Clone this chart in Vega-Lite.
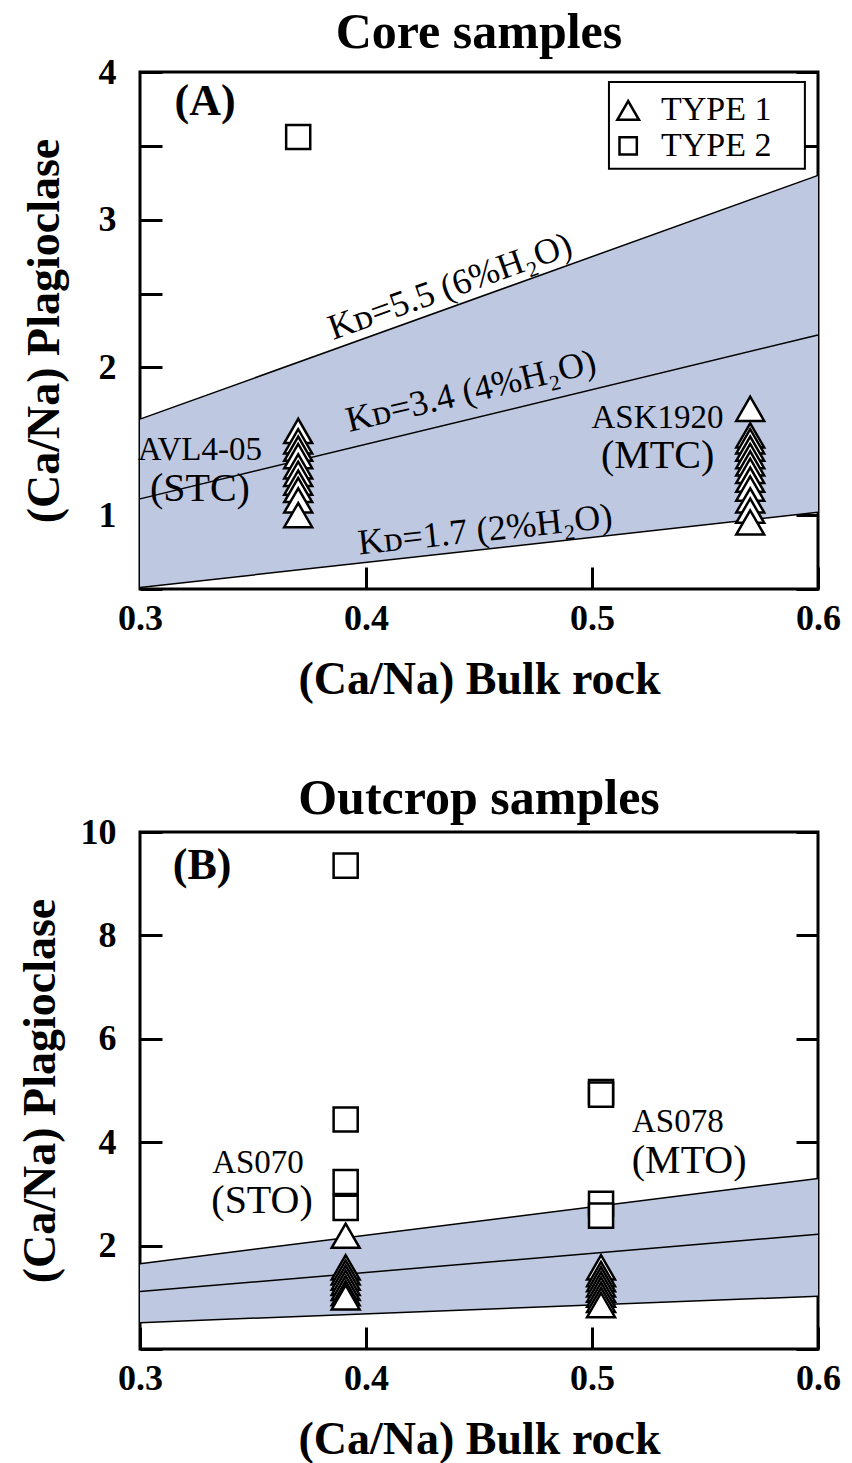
{
  "$schema": "https://vega.github.io/schema/vega-lite/v6.json",
  "padding": {"left": 15, "top": 6, "right": 5, "bottom": 5},
  "background": "white",
  "bounds": "flush",
  "spacing": 243,
  "datasets": {
    "lines": [
      {"x": 0.3, "hi": 1.65, "mid": 1.11, "lo": 0.51},
      {"x": 0.6, "hi": 3.3, "mid": 2.22, "lo": 1.02}
    ],
    "core": [
      {"x": 0.37, "y": 3.56, "type": "TYPE 2"},
      {"x": 0.37, "y": 1.57, "type": "TYPE 1"},
      {"x": 0.37, "y": 1.5, "type": "TYPE 1"},
      {"x": 0.37, "y": 1.45, "type": "TYPE 1"},
      {"x": 0.37, "y": 1.4, "type": "TYPE 1"},
      {"x": 0.37, "y": 1.33, "type": "TYPE 1"},
      {"x": 0.37, "y": 1.28, "type": "TYPE 1"},
      {"x": 0.37, "y": 1.22, "type": "TYPE 1"},
      {"x": 0.37, "y": 1.17, "type": "TYPE 1"},
      {"x": 0.37, "y": 1.1, "type": "TYPE 1"},
      {"x": 0.37, "y": 1.0, "type": "TYPE 1"},
      {"x": 0.57, "y": 1.72, "type": "TYPE 1"},
      {"x": 0.57, "y": 1.54, "type": "TYPE 1"},
      {"x": 0.57, "y": 1.5, "type": "TYPE 1"},
      {"x": 0.57, "y": 1.45, "type": "TYPE 1"},
      {"x": 0.57, "y": 1.4, "type": "TYPE 1"},
      {"x": 0.57, "y": 1.35, "type": "TYPE 1"},
      {"x": 0.57, "y": 1.3, "type": "TYPE 1"},
      {"x": 0.57, "y": 1.24, "type": "TYPE 1"},
      {"x": 0.57, "y": 1.18, "type": "TYPE 1"},
      {"x": 0.57, "y": 1.1, "type": "TYPE 1"},
      {"x": 0.57, "y": 1.03, "type": "TYPE 1"},
      {"x": 0.57, "y": 0.95, "type": "TYPE 1"}
    ],
    "outcrop": [
      {"x": 0.391, "y": 9.35, "type": "TYPE 2"},
      {"x": 0.391, "y": 4.44, "type": "TYPE 2"},
      {"x": 0.391, "y": 3.23, "type": "TYPE 2"},
      {"x": 0.391, "y": 2.73, "type": "TYPE 2"},
      {"x": 0.391, "y": 2.19, "type": "TYPE 1"},
      {"x": 0.391, "y": 1.58, "type": "TYPE 1"},
      {"x": 0.391, "y": 1.48, "type": "TYPE 1"},
      {"x": 0.391, "y": 1.38, "type": "TYPE 1"},
      {"x": 0.391, "y": 1.28, "type": "TYPE 1"},
      {"x": 0.391, "y": 1.18, "type": "TYPE 1"},
      {"x": 0.391, "y": 1.08, "type": "TYPE 1"},
      {"x": 0.391, "y": 1.0, "type": "TYPE 1"},
      {"x": 0.504, "y": 4.97, "type": "TYPE 2"},
      {"x": 0.504, "y": 4.92, "type": "TYPE 2"},
      {"x": 0.504, "y": 2.81, "type": "TYPE 2"},
      {"x": 0.504, "y": 2.58, "type": "TYPE 2"},
      {"x": 0.504, "y": 1.58, "type": "TYPE 1"},
      {"x": 0.504, "y": 1.45, "type": "TYPE 1"},
      {"x": 0.504, "y": 1.35, "type": "TYPE 1"},
      {"x": 0.504, "y": 1.25, "type": "TYPE 1"},
      {"x": 0.504, "y": 1.15, "type": "TYPE 1"},
      {"x": 0.504, "y": 1.05, "type": "TYPE 1"},
      {"x": 0.504, "y": 0.95, "type": "TYPE 1"},
      {"x": 0.504, "y": 0.85, "type": "TYPE 1"}
    ],
    "legendBox": [{"x": 0.5075, "x2": 0.5942, "y": 3.932, "y2": 3.345}],
    "legendRows": [
      {"x": 0.516, "lx": 0.5305, "y": 3.74, "type": "TYPE 1"},
      {"x": 0.516, "lx": 0.5305, "y": 3.5, "type": "TYPE 2"}
    ],
    "coreNames": [
      {"x": 0.3265, "y": 1.44, "label": "AVL4-05"},
      {"x": 0.529, "y": 1.655, "label": "ASK1920"}
    ],
    "coreCodes": [
      {"x": 0.3265, "y": 1.18, "label": "(STC)"},
      {"x": 0.529, "y": 1.4, "label": "(MTC)"}
    ],
    "outNames": [
      {"x": 0.3522, "y": 3.6, "label": "AS070"},
      {"x": 0.538, "y": 4.4, "label": "AS078"}
    ],
    "outCodes": [
      {"x": 0.354, "y": 2.87, "label": "(STO)"},
      {"x": 0.543, "y": 3.63, "label": "(MTO)"}
    ],
    "kdHi": [{"x": 0.4372, "y": 2.547, "label": "Kᴅ=5.5 (6%H₂O)"}],
    "kdMid": [{"x": 0.4465, "y": 1.838, "label": "Kᴅ=3.4 (4%H₂O)"}],
    "kdLo": [{"x": 0.4527, "y": 0.899, "label": "Kᴅ=1.7 (2%H₂O)"}],
    "panelA": [{"x": 0.3288, "y": 3.8, "label": "(A)"}],
    "panelB": [{"x": 0.3275, "y": 9.35, "label": "(B)"}]
  },
  "vconcat": [
    {
      "width": 678,
      "height": 517,
      "title": {"text": "Core samples", "offset": -4},
      "layer": [
        {
          "data": {"name": "lines"},
          "mark": {"type": "area", "color": "#bec8e0"},
          "encoding": {
            "x": {"field": "x", "type": "quantitative", "scale": {"domain": [0.3, 0.6], "nice": false, "zero": false},
                  "axis": {"values": [0.3, 0.4, 0.5, 0.6], "format": ".1f", "title": "(Ca/Na) Bulk rock", "labelPadding": 34, "titlePadding": 21}},
            "y": {"field": "hi", "type": "quantitative", "scale": {"domain": [0.5, 4], "nice": false, "zero": false},
                  "axis": {"orient": "left", "values": [0.5, 1, 1.5, 2, 2.5, 3, 3.5, 4], "labelExpr": "datum.value % 1 == 0 ? format(datum.value, 'd') : ''", "title": "(Ca/Na) Plagioclase", "labelPadding": 46, "titlePadding": 30}},
            "y2": {"field": "lo"}
          }
        },
        {
          "data": {"name": "lines"},
          "transform": [{"fold": ["hi", "mid", "lo"], "as": ["kd", "v"]}],
          "mark": {"type": "line", "color": "black", "strokeWidth": 1.5},
          "encoding": {
            "x": {"field": "x", "type": "quantitative"},
            "y": {"field": "v", "type": "quantitative", "axis": {"orient": "right", "values": [0.5, 1, 1.5, 2, 2.5, 3, 3.5, 4], "labels": false, "title": null}},
            "detail": {"field": "kd"}
          }
        },
        {
          "data": {"name": "kdHi"},
          "mark": {"type": "text", "angle": -19.6, "fontSize": 36, "font": "Liberation Serif", "align": "center", "baseline": "middle"},
          "encoding": {"x": {"field": "x", "type": "quantitative"}, "y": {"field": "y", "type": "quantitative", "axis": null}, "text": {"field": "label"}}
        },
        {
          "data": {"name": "kdMid"},
          "mark": {"type": "text", "angle": -13.5, "fontSize": 36, "font": "Liberation Serif", "align": "center", "baseline": "middle"},
          "encoding": {"x": {"field": "x", "type": "quantitative"}, "y": {"field": "y", "type": "quantitative", "axis": null}, "text": {"field": "label"}}
        },
        {
          "data": {"name": "kdLo"},
          "mark": {"type": "text", "angle": -6.1, "fontSize": 36, "font": "Liberation Serif", "align": "center", "baseline": "middle"},
          "encoding": {"x": {"field": "x", "type": "quantitative"}, "y": {"field": "y", "type": "quantitative", "axis": null}, "text": {"field": "label"}}
        },
        {
          "data": {"name": "coreNames"},
          "mark": {"type": "text", "fontSize": 33, "font": "Liberation Serif", "align": "center", "baseline": "middle"},
          "encoding": {"x": {"field": "x", "type": "quantitative"}, "y": {"field": "y", "type": "quantitative", "axis": null}, "text": {"field": "label"}}
        },
        {
          "data": {"name": "coreCodes"},
          "mark": {"type": "text", "fontSize": 40, "font": "Liberation Serif", "align": "center", "baseline": "middle"},
          "encoding": {"x": {"field": "x", "type": "quantitative"}, "y": {"field": "y", "type": "quantitative", "axis": null}, "text": {"field": "label"}}
        },
        {
          "data": {"name": "panelA"},
          "mark": {"type": "text", "fontSize": 44, "fontWeight": "bold", "font": "Liberation Serif", "align": "center", "baseline": "middle"},
          "encoding": {"x": {"field": "x", "type": "quantitative"}, "y": {"field": "y", "type": "quantitative", "axis": null}, "text": {"field": "label"}}
        },
        {
          "data": {"name": "core"},
          "transform": [{"filter": "datum.type == 'TYPE 1'"}],
          "mark": {"type": "point", "filled": true, "fill": "white", "stroke": "black", "strokeWidth": 2.5, "opacity": 1, "size": 780},
          "encoding": {
            "x": {"field": "x", "type": "quantitative"},
            "y": {"field": "y", "type": "quantitative", "axis": null},
            "shape": {"field": "type", "type": "nominal", "scale": {"domain": ["TYPE 1", "TYPE 2"], "range": ["triangle-up", "square"]}, "legend": null}
          }
        },
        {
          "data": {"name": "core"},
          "transform": [{"filter": "datum.type == 'TYPE 2'"}],
          "mark": {"type": "point", "filled": true, "fill": "white", "stroke": "black", "strokeWidth": 2.5, "opacity": 1, "size": 580},
          "encoding": {
            "x": {"field": "x", "type": "quantitative"},
            "y": {"field": "y", "type": "quantitative", "axis": null},
            "shape": {"field": "type", "type": "nominal", "legend": null}
          }
        },
        {
          "data": {"name": "legendBox"},
          "mark": {"type": "rect", "fill": "white", "stroke": "black", "strokeWidth": 2},
          "encoding": {
            "x": {"field": "x", "type": "quantitative"}, "x2": {"field": "x2"},
            "y": {"field": "y", "type": "quantitative", "axis": null}, "y2": {"field": "y2"}
          }
        },
        {
          "data": {"name": "legendRows"},
          "transform": [{"filter": "datum.type == 'TYPE 1'"}],
          "mark": {"type": "point", "filled": true, "fill": "white", "stroke": "black", "strokeWidth": 2.5, "opacity": 1, "size": 470},
          "encoding": {
            "x": {"field": "x", "type": "quantitative"},
            "y": {"field": "y", "type": "quantitative", "axis": null},
            "shape": {"field": "type", "type": "nominal", "legend": null}
          }
        },
        {
          "data": {"name": "legendRows"},
          "transform": [{"filter": "datum.type == 'TYPE 2'"}],
          "mark": {"type": "point", "filled": true, "fill": "white", "stroke": "black", "strokeWidth": 2.5, "opacity": 1, "size": 300},
          "encoding": {
            "x": {"field": "x", "type": "quantitative"},
            "y": {"field": "y", "type": "quantitative", "axis": null},
            "shape": {"field": "type", "type": "nominal", "legend": null}
          }
        },
        {
          "data": {"name": "legendRows"},
          "mark": {"type": "text", "fontSize": 34, "font": "Liberation Serif", "align": "left", "baseline": "middle"},
          "encoding": {
            "x": {"field": "lx", "type": "quantitative"},
            "y": {"field": "y", "type": "quantitative", "axis": null},
            "text": {"field": "type"}
          }
        }
      ],
      "resolve": {"axis": {"y": "independent"}}
    },
    {
      "width": 678,
      "height": 517,
      "title": {"text": "Outcrop samples", "offset": -10},
      "layer": [
        {
          "data": {"name": "lines"},
          "mark": {"type": "area", "color": "#bec8e0"},
          "encoding": {
            "x": {"field": "x", "type": "quantitative", "scale": {"domain": [0.3, 0.6], "nice": false, "zero": false},
                  "axis": {"values": [0.3, 0.4, 0.5, 0.6], "format": ".1f", "title": "(Ca/Na) Bulk rock", "labelPadding": 34, "titlePadding": 21}},
            "y": {"field": "hi", "type": "quantitative", "scale": {"domain": [0, 10], "nice": false, "zero": false},
                  "axis": {"orient": "left", "values": [0, 2, 4, 6, 8, 10], "labelExpr": "datum.value == 0 ? '' : format(datum.value, 'd')", "title": "(Ca/Na) Plagioclase", "labelPadding": 46, "titlePadding": 16}},
            "y2": {"field": "lo"}
          }
        },
        {
          "data": {"name": "lines"},
          "transform": [{"fold": ["hi", "mid", "lo"], "as": ["kd", "v"]}],
          "mark": {"type": "line", "color": "black", "strokeWidth": 1.5},
          "encoding": {
            "x": {"field": "x", "type": "quantitative"},
            "y": {"field": "v", "type": "quantitative", "axis": {"orient": "right", "values": [0, 2, 4, 6, 8, 10], "labels": false, "title": null}},
            "detail": {"field": "kd"}
          }
        },
        {
          "data": {"name": "outNames"},
          "mark": {"type": "text", "fontSize": 33, "font": "Liberation Serif", "align": "center", "baseline": "middle"},
          "encoding": {"x": {"field": "x", "type": "quantitative"}, "y": {"field": "y", "type": "quantitative", "axis": null}, "text": {"field": "label"}}
        },
        {
          "data": {"name": "outCodes"},
          "mark": {"type": "text", "fontSize": 40, "font": "Liberation Serif", "align": "center", "baseline": "middle"},
          "encoding": {"x": {"field": "x", "type": "quantitative"}, "y": {"field": "y", "type": "quantitative", "axis": null}, "text": {"field": "label"}}
        },
        {
          "data": {"name": "panelB"},
          "mark": {"type": "text", "fontSize": 44, "fontWeight": "bold", "font": "Liberation Serif", "align": "center", "baseline": "middle"},
          "encoding": {"x": {"field": "x", "type": "quantitative"}, "y": {"field": "y", "type": "quantitative", "axis": null}, "text": {"field": "label"}}
        },
        {
          "data": {"name": "outcrop"},
          "transform": [{"filter": "datum.type == 'TYPE 1'"}],
          "mark": {"type": "point", "filled": true, "fill": "white", "stroke": "black", "strokeWidth": 2.5, "opacity": 1, "size": 780},
          "encoding": {
            "x": {"field": "x", "type": "quantitative"},
            "y": {"field": "y", "type": "quantitative", "axis": null},
            "shape": {"field": "type", "type": "nominal", "scale": {"domain": ["TYPE 1", "TYPE 2"], "range": ["triangle-up", "square"]}, "legend": null}
          }
        },
        {
          "data": {"name": "outcrop"},
          "transform": [{"filter": "datum.type == 'TYPE 2'"}],
          "mark": {"type": "point", "filled": true, "fill": "white", "stroke": "black", "strokeWidth": 2.5, "opacity": 1, "size": 580},
          "encoding": {
            "x": {"field": "x", "type": "quantitative"},
            "y": {"field": "y", "type": "quantitative", "axis": null},
            "shape": {"field": "type", "type": "nominal", "legend": null}
          }
        }
      ],
      "resolve": {"axis": {"y": "independent"}}
    }
  ],
  "resolve": {"scale": {"x": "independent", "y": "independent", "shape": "independent"}},
  "config": {
    "font": "Liberation Serif",
    "view": {"stroke": "black", "strokeWidth": 3},
    "axis": {
      "domain": false, "grid": false, "ticks": true, "tickSize": -22, "tickWidth": 3, "tickColor": "black",
      "labelFont": "Liberation Serif", "labelFontSize": 36, "labelFontWeight": "bold", "labelColor": "black", "labelFlush": false,
      "titleFont": "Liberation Serif", "titleFontSize": 46, "titleFontWeight": "bold", "titleColor": "black"
    },
    "title": {"font": "Liberation Serif", "fontSize": 50, "fontWeight": "bold", "color": "black", "anchor": "middle"}
  }
}
